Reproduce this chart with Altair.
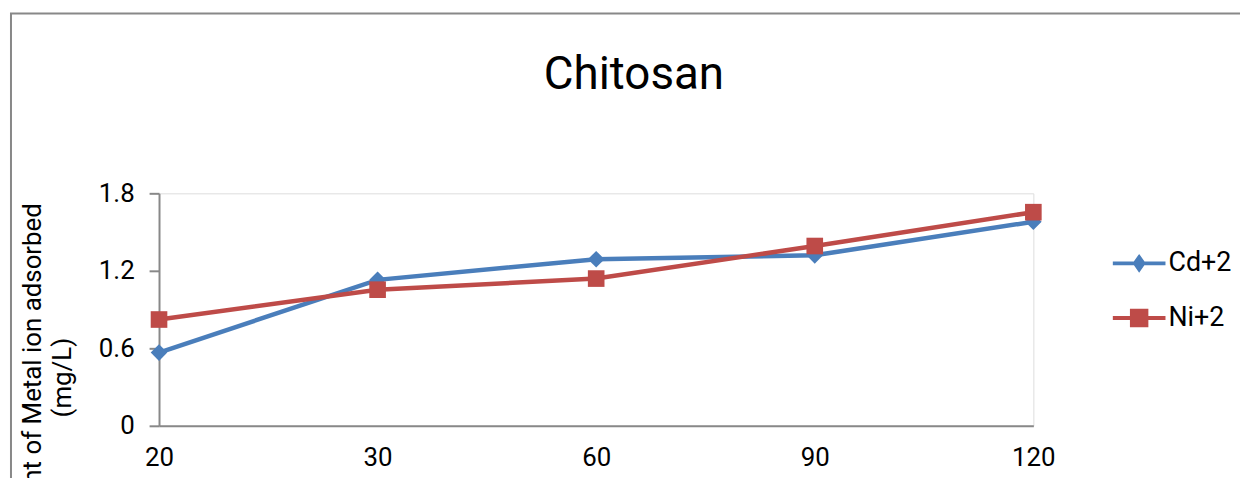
import altair as alt
import pandas as pd

# ---- data ----
time_labels = ["20", "30", "60", "90", "120"]
cd_values = [0.567, 1.13, 1.29, 1.32, 1.58]
ni_values = [0.823, 1.054, 1.14, 1.392, 1.654]
series_names = ["Cd+2", "Ni+2"]
series_colors = ["#4A7EBB", "#BE4B48"]
y_ticks = [0, 0.6, 1.2, 1.8]

rows = []
for t, c, n in zip(time_labels, cd_values, ni_values):
    rows.append({"time": t, "series": "Cd+2", "value": c})
    rows.append({"time": t, "series": "Ni+2", "value": n})
df = pd.DataFrame(rows)

FONT = "Roboto"
GREY = "#888888"

x_enc = alt.X(
    "time:O",
    sort=time_labels,
    scale=alt.Scale(type="point", padding=0),
    axis=alt.Axis(
        title=None, labelAngle=0, ticks=False, labelFontSize=26, labelFont=FONT,
        labelColor="black", labelPadding=19, domainColor=GREY, domainWidth=2,
        grid=False,
    ),
)
y_enc = alt.Y(
    "value:Q",
    scale=alt.Scale(domain=[0, 1.8], nice=False, zero=True),
    axis=alt.Axis(
        values=y_ticks, format=".1~f", grid=False,
        title=["Amount of Metal ion  adsorbed", "(mg/L)"],
        titleFont=FONT, titleFontSize=26, titleFontWeight="normal", titleColor="black",
        titleAngle=270, titleBaseline="middle", titleAlign="center",
        titleX=-127, titleY=185, titleLineHeight=30,
        labelFontSize=26, labelFont=FONT, labelColor="black", labelPadding=15,
        tickSize=10, tickWidth=2, tickColor=GREY, domainColor=GREY, domainWidth=2,
    ),
)

# legend glyphs: a line with the series marker on it
diamond_legend = "M-1,-0.075H1V0.075H-1Z M0,-0.36L0.25,0L0,0.36L-0.25,0Z"
square_legend = "M-1,-0.075H1V0.075H-1Z M-0.35,-0.35H0.35V0.35H-0.35Z"

legend_spec = alt.Legend(
    title=None, orient="none", legendX=960, legendY=44, padding=0,
    labelFont=FONT, labelFontSize=27, labelColor="black", labelOffset=3,
    rowPadding=15, symbolSize=2809, symbolStrokeWidth=0, symbolOpacity=1,
)

border = alt.Chart(alt.Data(values=[{}])).mark_rect(
    fillOpacity=0, stroke=GREY, strokeWidth=2
).encode(
    x=alt.value(-149), y=alt.value(-181), x2=alt.value(3000), y2=alt.value(3000)
)

base = alt.Chart(df)
layers = [border]
for name, col in zip(series_names, series_colors):
    sub = base.transform_filter(alt.datum.series == name)
    layers.append(sub.mark_line(strokeWidth=4.5, color=col).encode(x=x_enc, y=y_enc))
for name, col, shp in zip(series_names, series_colors, ["diamond", "square"]):
    sub = base.transform_filter(alt.datum.series == name)
    layers.append(
        sub.mark_point(filled=True, size=280, opacity=1, shape=shp, color=col).encode(x=x_enc, y=y_enc)
    )

legend_layer = base.transform_filter("datum.value < 0").mark_point(filled=True, opacity=1).encode(
    x=x_enc, y=y_enc,
    color=alt.Color("series:N", scale=alt.Scale(domain=series_names, range=series_colors), legend=legend_spec),
    shape=alt.Shape("series:N", scale=alt.Scale(domain=series_names, range=[diamond_legend, square_legend]), legend=legend_spec),
)
layers.append(legend_layer)

chart = alt.layer(*layers).properties(
    width=880, height=234,
    title=alt.Title(
        "Chitosan", font=FONT, fontSize=46, fontWeight="normal", color="black",
        anchor="middle", frame="group", dx=38, dy=123, offset=0, baseline="alphabetic",
    ),
    autosize=alt.AutoSizeParams(type="none"),
    padding={"left": 152, "top": 185, "right": 208, "bottom": 51},
).configure_view(stroke=None).configure(background="white")

chart.save("out.html", embed_options={"renderer": "svg", "actions": False})
